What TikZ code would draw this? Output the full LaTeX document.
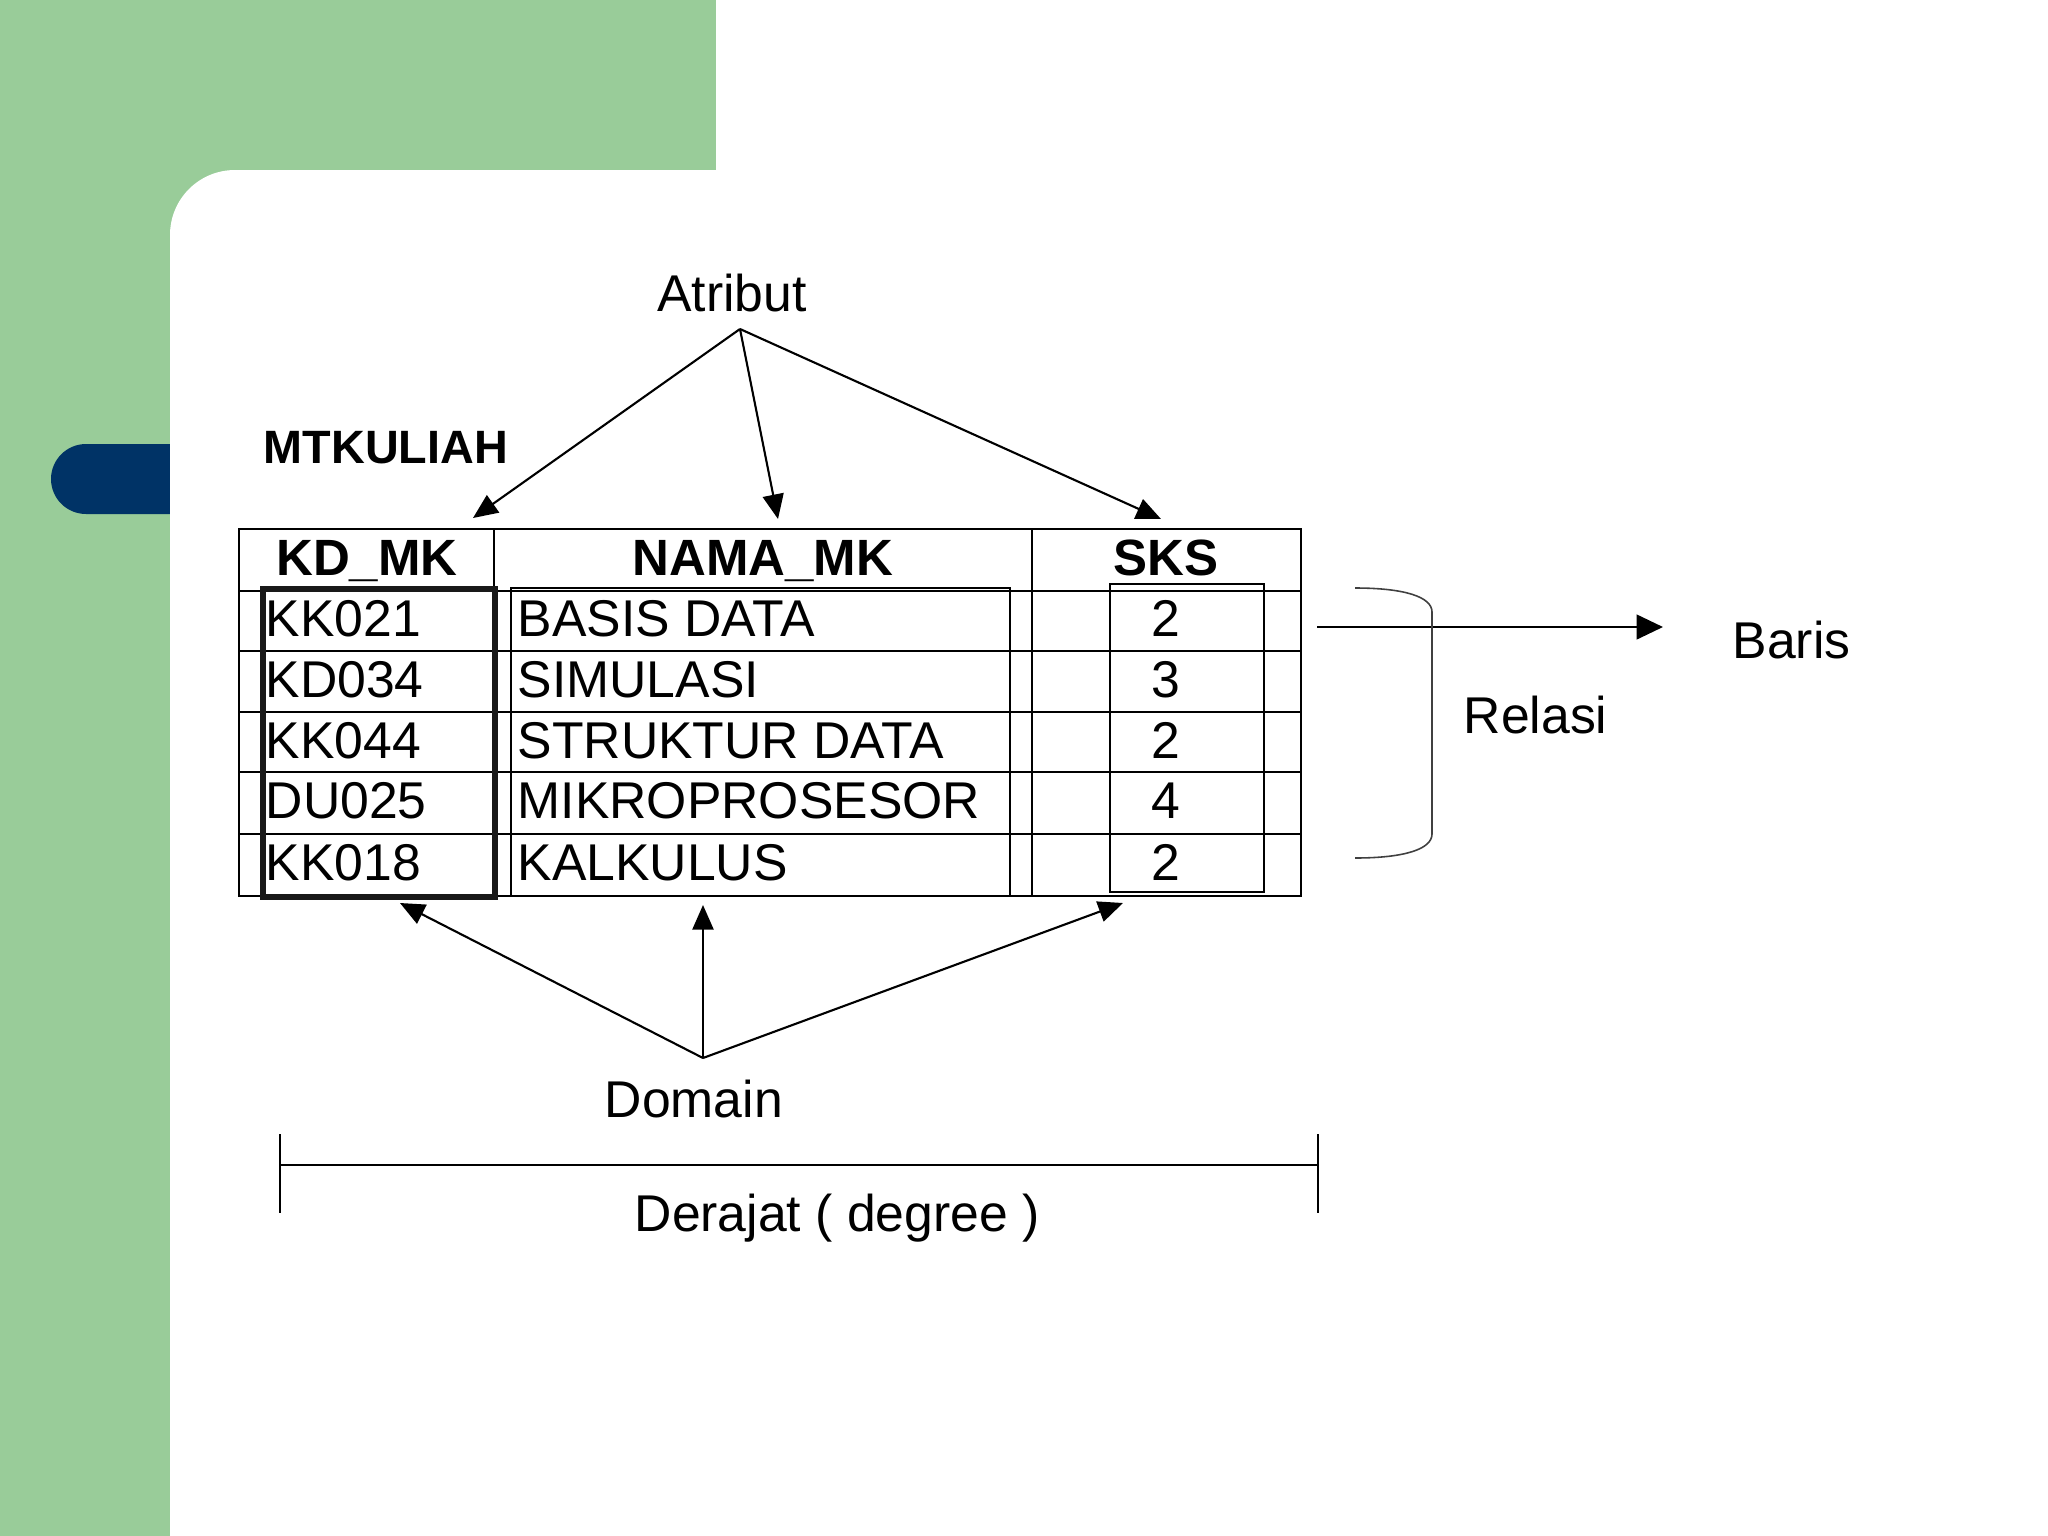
\documentclass[tikz,border=0pt]{standalone}
\usepackage{fontspec}
\setmainfont{Liberation Sans}
\usetikzlibrary{arrows.meta}
\definecolor{slidegreen}{RGB}{153,204,153}
\definecolor{slideblue}{RGB}{0,51,102}
\begin{document}
\begin{tikzpicture}[x=0.01cm,y=-0.01cm,
  txt/.style={inner sep=0pt, font=\fontsize{14.7}{17}\selectfont},
  lft/.style={txt, anchor=base west},
  ctr/.style={txt, anchor=base},
  hdr/.style={inner sep=0pt, anchor=base, font=\fontsize{14.5}{17}\selectfont\bfseries},
  grid/.style={line width=0.5pt, black},
  thickbox/.style={line width=1.5pt, black!90},
  arr/.style={line width=0.6pt, -{Triangle[length=7pt,width=6pt]}},
  bigarr/.style={line width=0.7pt, -{Triangle[length=7.5pt,width=7pt]}},
  brace/.style={line width=0.45pt, black!75},
]
\useasboundingbox (0,0) rectangle (2048,1536);
% background
\fill[slidegreen] (0,0) rectangle (2048,1536);
\fill[slideblue] (175,444) -- (86,444) .. controls (66.7,444) and (51,459.7) .. (51,479)
  .. controls (51,498.3) and (66.7,514) .. (86,514) -- (175,514) -- cycle;
\fill[white] (716,0) -- (2048,0) -- (2048,1536) -- (170,1536) -- (170,235)
  .. controls (170,199) and (199,170) .. (235,170) -- (716,170) -- cycle;

% table grid
\draw[grid] (239,529) rectangle (1301,896);
\foreach \yy in {591,651,712,772,834} \draw[grid] (239,\yy) -- (1301,\yy);
\draw[grid] (494,529) -- (494,896);
\draw[grid] (1032,529) -- (1032,896);
\draw[grid] (511,588) rectangle (1010,896);
\draw[line width=0.8pt] (511,588) -- (1010,588);
\draw[grid] (1110,584) rectangle (1264,892);
\draw[thickbox] (263,589) rectangle (495,897);

% headers
\node[hdr] (hkd) at (367,575) {KD\_MK};
\node[hdr] (hnama) at (763,575) {NAMA\_MK};
\node[hdr] (hsks) at (1166,575) {SKS};

% rows
\node[lft] (k1) at (265,636) {KK021};
\node[lft] (n1) at (517,636) {BASIS DATA};
\node[ctr] (s1) at (1166,636) {2};
\node[lft] (k2) at (265,697) {KD034};
\node[lft] (n2) at (517,697) {SIMULASI};
\node[ctr] (s2) at (1166,697) {3};
\node[lft] (k3) at (265,758) {KK044};
\node[lft] (n3) at (517,758) {STRUKTUR DATA};
\node[ctr] (s3) at (1166,758) {2};
\node[lft] (k4) at (265,818) {DU025};
\node[lft] (n4) at (517,818) {MIKROPROSESOR};
\node[ctr] (s4) at (1166,818) {4};
\node[lft] (k5) at (265,880) {KK018};
\node[lft] (n5) at (517,880) {KALKULUS};
\node[ctr] (s5) at (1166,880) {2};

% labels
\node[inner sep=0pt, anchor=base west, font=\fontsize{13.3}{16}\selectfont\bfseries] (mtk) at (263,463) {MTKULIAH};
\node[ctr] (atribut) at (732,311) {Atribut};
\node[lft] (domain) at (604,1117) {Domain};
\node[lft] (relasi) at (1463,733) {Relasi};
\node[lft] (baris) at (1732,658) {Baris};
\node[lft] (derajat) at (634,1231) {Derajat ( degree )};

% Atribut arrows
\coordinate (atop) at (740,329);
\coordinate (ta1) at (473,518);
\coordinate (ta2) at (778,519);
\coordinate (ta3) at (1161,519);
\draw[arr] (atop) -- (ta1);
\draw[arr] (atop) -- (ta2);
\draw[arr] (atop) -- (ta3);

% Domain arrows
\coordinate (dbot) at (703,1058);
\coordinate (td1) at (400,903);
\coordinate (td2) at (703,905);
\coordinate (td3) at (1123,903);
\draw[arr] (dbot) -- (td1);
\draw[arr] (dbot) -- (td2);
\draw[arr] (dbot) -- (td3);

% Baris arrow
\coordinate (bs) at (1317,627);
\coordinate (be) at (1663,627);
\draw[bigarr] (bs) -- (be);

% Relasi bracket
\draw[brace] (1355,588) .. controls (1405,588) and (1432,597) .. (1432,612)
  -- (1432,834) .. controls (1432,849) and (1405,858) .. (1355,858);

% degree line
\coordinate (dl) at (280,1165);
\coordinate (dr) at (1318,1165);
\draw[line width=0.6pt] (dl) -- (dr);
\draw[line width=0.4pt] (280,1134) -- (280,1213);
\draw[line width=0.4pt] (1318,1134) -- (1318,1213);
\end{tikzpicture}
\end{document}
